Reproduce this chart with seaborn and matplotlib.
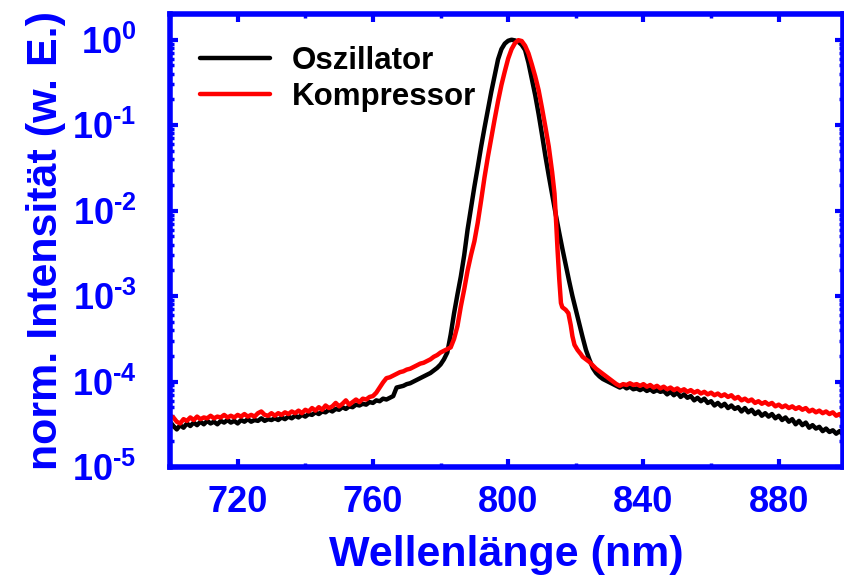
import numpy as np
import pandas as pd
import matplotlib
matplotlib.use("Agg")
import matplotlib.pyplot as plt
import seaborn as sns
from matplotlib.ticker import LogLocator, FuncFormatter, NullFormatter, MultipleLocator, FixedLocator

# ---------------- data ----------------
series_names = ["Oszillator", "Kompressor"]
series_colors = ["black", "red"]

osz_wl = list(range(700, 901))
osz_log10 = [
    # 700-780
    -4.47, -4.52, -4.56, -4.51, -4.54, -4.49, -4.52, -4.48, -4.51, -4.47,
    -4.50, -4.46, -4.49, -4.47, -4.50, -4.46, -4.48, -4.45, -4.48, -4.46,
    -4.49, -4.45, -4.47, -4.44, -4.47, -4.45, -4.46, -4.43, -4.46, -4.44,
    -4.45, -4.43, -4.45, -4.42, -4.44, -4.41, -4.43, -4.40, -4.42, -4.39,
    -4.41, -4.38, -4.39, -4.36, -4.38, -4.35, -4.36, -4.33, -4.35, -4.32,
    -4.33, -4.30, -4.32, -4.29, -4.30, -4.27, -4.28, -4.26, -4.27, -4.24,
    -4.25, -4.22, -4.23, -4.20, -4.21, -4.19, -4.17, -4.07, -4.06, -4.05,
    -4.03, -4.02, -4.00, -3.98, -3.96, -3.94, -3.92, -3.90, -3.87, -3.84,
    -3.80,
    # 781-830
    -3.74, -3.66, -3.45, -3.20, -2.98, -2.77, -2.52, -2.22, -1.97, -1.72,
    -1.49, -1.25, -1.03, -0.82, -0.61, -0.42, -0.23, -0.11, -0.045, -0.012,
    0.0, -0.008, -0.025, -0.06, -0.12, -0.27, -0.46, -0.65, -0.87, -1.11,
    -1.36, -1.59, -1.81, -2.03, -2.24, -2.44, -2.63, -2.82, -3.00, -3.16,
    -3.32, -3.48, -3.63, -3.74, -3.84, -3.90, -3.94, -3.97, -3.99, -4.01,
    # 831-900
    -4.03, -4.05, -4.07, -4.05, -4.08, -4.06, -4.09, -4.08, -4.10, -4.08,
    -4.11, -4.09, -4.12, -4.10, -4.12, -4.11, -4.15, -4.12, -4.16, -4.13,
    -4.18, -4.15, -4.19, -4.17, -4.22, -4.19, -4.23, -4.20, -4.25, -4.23,
    -4.28, -4.25, -4.29, -4.26, -4.31, -4.28, -4.32, -4.30, -4.35, -4.31,
    -4.36, -4.33, -4.38, -4.35, -4.40, -4.37, -4.41, -4.38, -4.43, -4.40,
    -4.45, -4.42, -4.47, -4.44, -4.50, -4.46, -4.51, -4.48, -4.54, -4.51,
    -4.55, -4.53, -4.58, -4.55, -4.59, -4.57, -4.61, -4.58, -4.62, -4.60,
]

komp_wl = (list(range(700, 813))
           + [813, 813.7, 814.2, 814.6, 815.1, 815.6, 816, 817, 817.8,
              818.5, 819, 819.6, 820.5, 821.5, 822]
           + list(range(823, 901)))
komp_log10 = [
    # 700-760
    -4.40, -4.42, -4.47, -4.49, -4.44, -4.46, -4.42, -4.45, -4.41, -4.44,
    -4.42, -4.43, -4.40, -4.43, -4.41, -4.42, -4.39, -4.42, -4.40, -4.42,
    -4.39, -4.41, -4.38, -4.41, -4.39, -4.41, -4.37, -4.35, -4.39, -4.40,
    -4.37, -4.40, -4.37, -4.39, -4.36, -4.38, -4.35, -4.37, -4.34, -4.37,
    -4.33, -4.35, -4.31, -4.34, -4.30, -4.33, -4.28, -4.31, -4.29, -4.25,
    -4.29, -4.26, -4.22, -4.27, -4.24, -4.21, -4.24, -4.20, -4.21, -4.18,
    -4.17,
    # 761-782
    -4.13, -4.07, -4.01, -3.96, -3.95, -3.93, -3.91, -3.89, -3.88, -3.86,
    -3.85, -3.83, -3.81, -3.79, -3.78, -3.76, -3.74, -3.71, -3.69, -3.66,
    -3.64, -3.62,
    # 783-812
    -3.60, -3.50, -3.35, -3.12, -2.92, -2.70, -2.52, -2.36, -2.14, -1.88,
    -1.61, -1.37, -1.15, -0.93, -0.72, -0.53, -0.37, -0.22, -0.11, -0.04,
    -0.005, -0.015, -0.07, -0.16, -0.29, -0.43, -0.59, -0.80, -1.02, -1.25,
    # 813-822 (shoulder)
    -1.55, -1.80, -2.15, -2.46, -2.80, -3.08, -3.13, -3.16, -3.20,
    -3.34, -3.47, -3.57, -3.63, -3.68, -3.71,
    # 823-833
    -3.74, -3.77, -3.81, -3.85, -3.88, -3.91, -3.94, -3.97, -4.00, -4.03,
    -4.05,
    # 834-900
    -4.03, -4.04, -4.02, -4.04, -4.03, -4.05, -4.03, -4.06, -4.04, -4.07,
    -4.05, -4.08, -4.06, -4.09, -4.07, -4.10, -4.08, -4.11, -4.09, -4.12,
    -4.10, -4.13, -4.11, -4.14, -4.12, -4.15, -4.13, -4.16, -4.14, -4.17,
    -4.15, -4.18, -4.16, -4.20, -4.18, -4.22, -4.20, -4.23, -4.21, -4.25,
    -4.23, -4.26, -4.24, -4.27, -4.25, -4.29, -4.27, -4.30, -4.28, -4.31,
    -4.29, -4.32, -4.30, -4.33, -4.31, -4.35, -4.33, -4.36, -4.34, -4.37,
    -4.35, -4.38, -4.36, -4.40, -4.38, -4.41, -4.40,
]

x_ticks = [720, 760, 800, 840, 880]
x_limits = [700, 899]
y_limits = [1e-5, 2.0]
x_label = "Wellenlänge (nm)"
y_label = "norm. Intensität (w. E.)"

# ---------------- build table ----------------
df = pd.concat([
    pd.DataFrame({"wl": osz_wl, "I": 10 ** np.array(osz_log10), "Serie": series_names[0]}),
    pd.DataFrame({"wl": komp_wl, "I": 10 ** np.array(komp_log10), "Serie": series_names[1]}),
], ignore_index=True)

# ---------------- style ----------------
sns.set_style("ticks")
plt.rcParams["font.family"] = ["Liberation Sans", "DejaVu Sans"]
plt.rcParams["font.weight"] = "bold"
plt.rcParams["mathtext.fontset"] = "custom"
plt.rcParams["mathtext.rm"] = "Liberation Sans:bold"
plt.rcParams["mathtext.it"] = "Liberation Sans:bold"
plt.rcParams["mathtext.bf"] = "Liberation Sans:bold"
plt.rcParams["mathtext.sf"] = "Liberation Sans:bold"

BLUE = "#0000ff"

fig = plt.figure(figsize=(8.45, 5.79), dpi=100)
ax = fig.add_axes([0.2012, 0.1934, 0.7964, 0.7824])
ax.set_yscale("log")

sns.lineplot(data=df, x="wl", y="I", hue="Serie", hue_order=series_names,
             palette=dict(zip(series_names, series_colors)),
             estimator=None, sort=False, linewidth=3.2, ax=ax, legend=False)

ax.set_xlim(*x_limits)
ax.set_ylim(*y_limits)


def log_fmt(v, pos):
    e = int(round(np.log10(v)))
    if e < 0:
        return r"$\mathbf{10^{\text{-}%d}}$" % (-e)
    return r"$\mathbf{10^{%d}}$" % e


ax.xaxis.set_major_locator(FixedLocator(x_ticks))
ax.xaxis.set_minor_locator(MultipleLocator(20))
ax.yaxis.set_major_locator(LogLocator(base=10, numticks=10))
ax.yaxis.set_minor_locator(LogLocator(base=10, subs=np.arange(2, 10), numticks=20))
ax.yaxis.set_minor_formatter(NullFormatter())
ax.yaxis.set_major_formatter(FuncFormatter(log_fmt))

for s in ax.spines.values():
    s.set_color(BLUE)
    s.set_linewidth(4)
    s.set_visible(True)

ax.tick_params(which="both", direction="in", top=True, right=True,
               color=BLUE, labelcolor=BLUE)
ax.tick_params(which="major", length=6, width=3, labelsize=26)
ax.tick_params(which="minor", length=3, width=2.5)
ax.tick_params(axis="x", which="major", pad=13)
ax.tick_params(axis="y", which="major", pad=24)

ax.set_xlabel(x_label, fontsize=31, color=BLUE, fontweight="bold", labelpad=11)
ax.set_ylabel(y_label, fontsize=31, color=BLUE, fontweight="bold", labelpad=4)

leg = ax.legend(handles=ax.get_lines()[:2], labels=series_names,
                loc="upper left", bbox_to_anchor=(0.045, 0.93),
                frameon=False, fontsize=22.5, handlelength=2.24,
                handletextpad=0.7, labelspacing=0.2, borderpad=0,
                borderaxespad=0)
for t in leg.get_texts():
    t.set_fontweight("bold")
    t.set_color("black")

fig.savefig("out.png", dpi=100)
